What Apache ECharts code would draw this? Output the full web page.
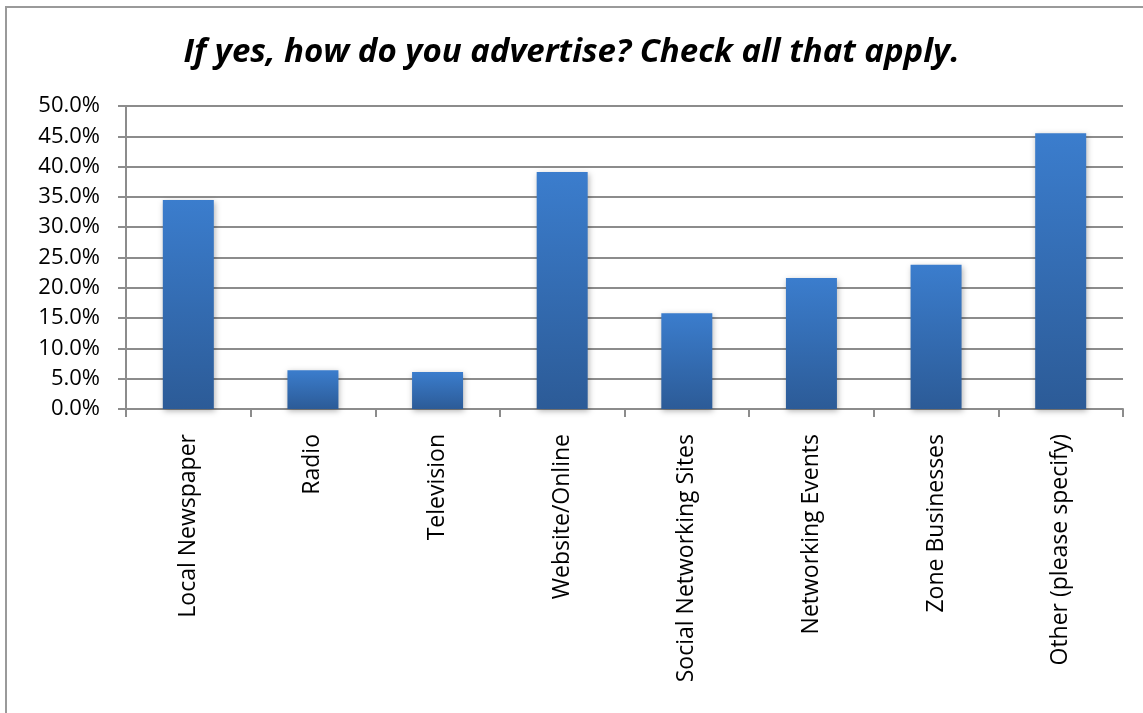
<!DOCTYPE html>
<html>
<head>
<meta charset="utf-8">
<script src="https://cdn.jsdelivr.net/npm/echarts@6/dist/echarts.min.js"></script>
<style>
  html, body { margin: 0; padding: 0; background: #fff; }
  #chart { width: 1143px; height: 713px; }
</style>
</head>
<body>
<div id="chart"></div>
<script>
// categories and values (percent)
var categories = ['Local Newspaper', 'Radio', 'Television', 'Website/Online',
  'Social Networking Sites', 'Networking Events', 'Zone Businesses', 'Other (please specify)'];
var values = [34.5, 6.4, 6.1, 39.1, 15.8, 21.6, 23.8, 45.5];
var titleText = 'If yes, how do you advertise? Check all that apply.';

var myChart = echarts.init(document.getElementById('chart'));
var font = '"Open Sans", "Liberation Sans", sans-serif';

var option = {
  backgroundColor: '#fff',
  animation: false,
  graphic: [{
    type: 'rect',
    shape: { x: 6, y: 7, width: 1160, height: 730 },
    style: { fill: 'none', stroke: '#9a9a9a', lineWidth: 2 }
  }],
  title: {
    text: titleText,
    left: 'center',
    top: 31,
    textStyle: {
      fontFamily: font,
      fontStyle: 'italic',
      fontWeight: 'bold',
      fontSize: 33,
      color: '#000'
    }
  },
  grid: { left: 126, right: 20, top: 106, bottom: 304 },
  xAxis: {
    type: 'category',
    data: categories,
    axisLine: { lineStyle: { color: '#8c8c8c', width: 2 } },
    axisTick: { show: true, length: 8, lineStyle: { color: '#8c8c8c', width: 2 } },
    axisLabel: {
      rotate: 90,
      interval: 0,
      margin: 25,
      fontFamily: font,
      fontSize: 23,
      color: '#000'
    }
  },
  yAxis: {
    type: 'value',
    min: 0,
    max: 50,
    interval: 5,
    axisLine: { show: true, lineStyle: { color: '#8c8c8c', width: 2 } },
    axisTick: { show: true, length: 8, lineStyle: { color: '#8c8c8c', width: 2 } },
    splitLine: { lineStyle: { color: '#8c8c8c', width: 2 } },
    axisLabel: {
      margin: 26,
      fontFamily: font,
      fontSize: 22,
      color: '#000',
      formatter: function (v) { return v.toFixed(1) + '%'; }
    }
  },
  series: [{
    type: 'bar',
    data: values,
    barWidth: 51,
    itemStyle: {
      color: new echarts.graphic.LinearGradient(0, 0, 0, 1, [
        { offset: 0, color: '#3b7dcd' },
        { offset: 1, color: '#2c5b97' }
      ]),
      shadowColor: 'rgba(0,0,0,0.3)',
      shadowBlur: 6,
      shadowOffsetX: 1,
      shadowOffsetY: 2
    }
  }]
};

myChart.setOption(option);
window.addEventListener('resize', function () {
  myChart.resize();
});
</script>
</body>
</html>
